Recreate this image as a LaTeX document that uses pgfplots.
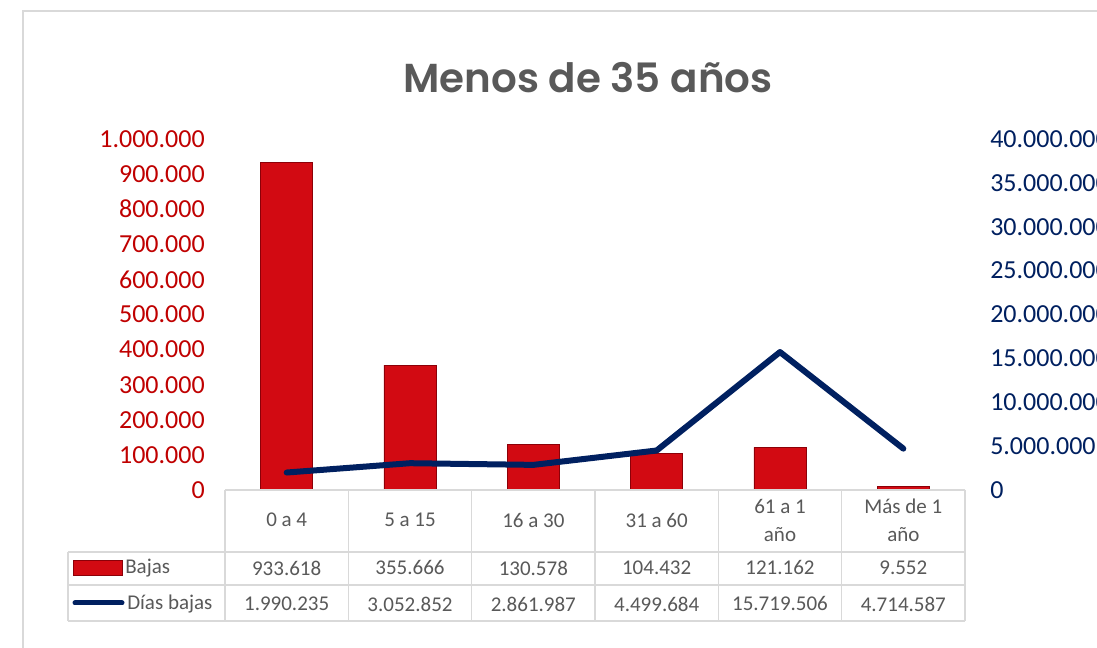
\documentclass[border=0pt]{standalone}
\usepackage{fontspec}
\setmainfont{Carlito}
\newfontfamily\titlefont{Poppins}[BoldFont={Poppins SemiBold}]
\usepackage{pgfplots}
\pgfplotsset{compat=1.18}
\definecolor{barred}{RGB}{210,10,18}
\definecolor{bardark}{RGB}{140,0,8}
\definecolor{labred}{RGB}{192,0,0}
\definecolor{navy}{RGB}{0,32,96}
\definecolor{gridgray}{RGB}{217,217,217}
\definecolor{txtgray}{RGB}{89,89,89}
\begin{document}
\begin{tikzpicture}
\useasboundingbox (0pt,0pt) rectangle (822.75pt,486pt);
\fill[white] (0pt,0pt) rectangle (822.75pt,486pt);

\begin{axis}[
  at={(168.75pt,118.5pt)}, anchor=south west,
  width=555pt, height=263.25pt, scale only axis,
  xmin=-0.5, xmax=5.5, ymin=0, ymax=1000000,
  axis line style={draw=none}, major tick length=0pt,
  xtick=\empty,
  ytick={0,100000,200000,300000,400000,500000,600000,700000,800000,900000,1000000},
  yticklabel style={font=\fontsize{19.5}{21}\selectfont, text=labred, anchor=east, inner sep=0pt, xshift=-15pt},
  scaled y ticks=false,
  /pgf/number format/fixed,
  /pgf/number format/precision=0,
  /pgf/number format/1000 sep={.},
  /pgf/number format/assume math mode=true,
  ybar, bar width=39pt,
  clip=false,
]
\addplot[fill=barred, draw=bardark, line width=0.6pt] coordinates {(0,933618) (1,355666) (2,130578) (3,104432) (4,121162) (5,9552)};
\end{axis}

\begin{axis}[
  at={(168.75pt,118.5pt)}, anchor=south west,
  width=555pt, height=263.25pt, scale only axis,
  xmin=-0.5, xmax=5.5, ymin=0, ymax=40000000,
  axis line style={draw=none}, major tick length=0pt,
  xtick=\empty,
  ytick={0,5000000,10000000,15000000,20000000,25000000,30000000,35000000,40000000},
  yticklabel pos=right,
  yticklabel style={font=\fontsize{19.5}{21}\selectfont, text=navy, anchor=west, inner sep=0pt, xshift=18.75pt},
  scaled y ticks=false,
  /pgf/number format/fixed,
  /pgf/number format/precision=0,
  /pgf/number format/1000 sep={.},
  /pgf/number format/assume math mode=true,
  clip=false,
]
\addplot[navy, line width=4.5pt, line cap=round, line join=round] coordinates {(0,1990235) (1,3052852) (2,2861987) (3,4499684) (4,15719506) (5,4714587)};
\end{axis}

\begin{scope}[x=0.75pt,y=0.75pt]
\draw[gridgray, line width=1.1pt] (23,-2) -- (23,637) -- (1100,637);
\node[text=txtgray] at (588,570) {\resizebox{276.75pt}{!}{\titlefont\bfseries Menos de 35 años}};

\begin{scope}[gridgray, line width=1.1pt]
\draw (225,158) -- (965,158);
\foreach \k in {0,...,6} { \draw ({225+123.333*\k},158) -- ({225+123.333*\k},27); }
\draw (68,96) -- (965,96);
\draw (68,63) -- (965,63);
\draw (68,27) -- (965,27);
\draw (68,96) -- (68,27);
\end{scope}

\begin{scope}[every node/.style={text=txtgray, font=\fontsize{15.75}{21}\selectfont, align=center, inner sep=0pt}]
\node at (286.67,128) {0 a 4};
\node at (410,128) {5 a 15};
\node at (533.33,128) {16 a 30};
\node at (656.67,128) {31 a 60};
\node at (780,128) {61 a 1\\año};
\node at (903.33,128) {Más de 1\\año};
\node at (286.67,80) {933.618};
\node at (410,80) {355.666};
\node at (533.33,80) {130.578};
\node at (656.67,80) {104.432};
\node at (780,80) {121.162};
\node at (903.33,80) {9.552};
\node at (286.67,44) {1.990.235};
\node at (410,44) {3.052.852};
\node at (533.33,44) {2.861.987};
\node at (656.67,44) {4.499.684};
\node at (780,44) {15.719.506};
\node at (903.33,44) {4.714.587};
\node[anchor=west] at (125,80) {Bajas};
\node[anchor=west] at (127,44) {Días bajas};
\end{scope}
\filldraw[fill=barred, draw=bardark, line width=0.6pt] (73,73) rectangle (122,88);
\draw[navy, line width=3.75pt, line cap=round] (75,45) -- (122,45);
\end{scope}
\end{tikzpicture}
\end{document}
